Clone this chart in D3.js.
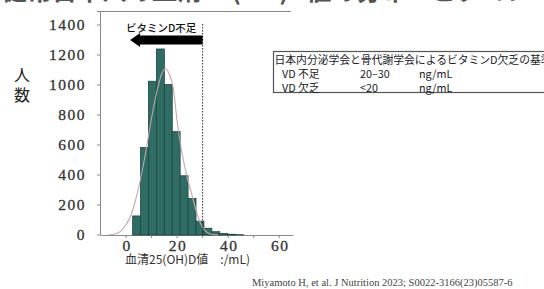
<!DOCTYPE html>
<html>
<head>
<meta charset="utf-8">
<script src="https://cdn.jsdelivr.net/npm/d3@7"></script>
<style>
  body { margin: 0; background: #fff; }
  svg { display: block; }
</style>
</head>
<body>
<div id="display"></div>
<script>
// bins of serum 25(OH)D (ng/mL), lower edges and counts
const binStart = [2.6, 5.7, 8.8, 11.9, 15.0, 18.1, 21.2, 24.3, 27.4, 30.5, 33.6, 36.7, 39.8, 42.9];
const binCount = [127, 583, 1025, 1240, 1003, 689, 395, 244, 92, 45, 22, 10, 5, 2];
const binWidth = 3.1;

// fitted curve
const curveX = [-7, -4, -2, 0, 2, 4, 6, 8, 10, 12, 14, 15.5, 17, 18.5, 20, 22, 24, 26, 28, 30, 32, 34, 36];
const curveY = [0, 8, 28, 68, 135, 250, 400, 580, 780, 950, 1075, 1108, 1070, 980, 760, 540, 380, 255, 130, 50, 15, 3, 0];

const yTicks = [0, 200, 400, 600, 800, 1000, 1200, 1400];
const xTicks = [0, 20, 40, 60];
const xMinor = [0, 10, 20, 30, 40, 50, 60];

const svg = d3.select('#display')
    .append('svg')
    .attr('width', 544)
    .attr('height', 289);

const x = d3.scaleLinear().domain([-10, 65]).range([100.5, 292]);
const y = d3.scaleLinear().domain([0, 1400]).range([235, 25]);

const serif = "'Liberation Serif', serif";
const jp = "'Noto Sans CJK JP', sans-serif";

// cut-off heading at the very top
svg.append('text')
    .attr('x', 2)
    .attr('y', 0)
    .attr('font-family', jp)
    .attr('font-weight', 'bold')
    .attr('font-size', '25px')
    .attr('fill', '#555')
    .text('健常日本人の血清25(OH)D値の分布：ビタミンD不足・欠乏');

// frame: left axis, top line, bottom axis
const axisColor = '#8a8a8a';
svg.append('line')
    .attr('x1', 100.5).attr('y1', 12)
    .attr('x2', 100.5).attr('y2', 235)
    .attr('stroke', axisColor);
svg.append('line')
    .attr('x1', 97).attr('y1', 11.5)
    .attr('x2', 291).attr('y2', 11.5)
    .attr('stroke', axisColor);
svg.append('line')
    .attr('x1', 100.5).attr('y1', 235.5)
    .attr('x2', 293).attr('y2', 235.5)
    .attr('stroke', axisColor);

// y ticks + labels
svg.append('g').selectAll('line')
    .data(yTicks)
    .join('line')
    .attr('x1', 97).attr('x2', 100.5)
    .attr('y1', d => y(d)).attr('y2', d => y(d))
    .attr('stroke', axisColor);

svg.append('g').selectAll('text')
    .data(yTicks)
    .join('text')
    .attr('x', 86)
    .attr('y', d => y(d) + 5)
    .attr('text-anchor', 'end')
    .attr('font-family', serif)
    .attr('font-size', '15.5px')
    .attr('letter-spacing', '1.5px')
    .attr('stroke', '#333')
    .attr('stroke-width', 0.3)
    .attr('fill', '#333')
    .text(d => d);

// x ticks + labels
svg.append('g').selectAll('line')
    .data(xMinor)
    .join('line')
    .attr('x1', d => x(d)).attr('x2', d => x(d))
    .attr('y1', 235.5).attr('y2', 238)
    .attr('stroke', axisColor);

svg.append('g').selectAll('text')
    .data(xTicks)
    .join('text')
    .attr('x', d => x(d) + 1)
    .attr('y', 250.5)
    .attr('text-anchor', 'middle')
    .attr('font-family', serif)
    .attr('font-size', '15.5px')
    .attr('letter-spacing', '1.5px')
    .attr('stroke', '#333')
    .attr('stroke-width', 0.3)
    .attr('fill', '#333')
    .text(d => d);

// y title (vertical)
['人', '数'].forEach((ch, i) => {
    svg.append('text')
        .attr('x', 22)
        .attr('y', 81 + i * 20)
        .attr('text-anchor', 'middle')
        .attr('font-family', jp)
        .attr('font-size', '16px')
        .attr('fill', '#222')
        .text(ch);
});

// x title
svg.append('text')
    .attr('x', 125)
    .attr('y', 263.5)
    .attr('font-family', jp)
    .attr('font-size', '12px')
    .attr('fill', '#333')
    .text('血清25(OH)D値　:/mL)');

// histogram bars
svg.append('g').selectAll('rect')
    .data(binStart)
    .join('rect')
    .attr('x', d => x(d))
    .attr('y', (d, i) => y(binCount[i]))
    .attr('width', d => x(d + binWidth) - x(d))
    .attr('height', (d, i) => y(0) - y(binCount[i]))
    .attr('fill', '#2f6c64')
    .attr('stroke', '#1d4541')
    .attr('stroke-width', 0.8);

// fitted curve
const line = d3.line()
    .x(d => x(d[0]))
    .y(d => y(d[1]))
    .curve(d3.curveMonotoneX);

svg.append('path')
    .attr('d', line(curveX.map((v, i) => [v, curveY[i]])))
    .attr('fill', 'none')
    .attr('stroke', '#c6a6a8')
    .attr('stroke-width', 1.1);

// cut-off at 30 ng/mL
svg.append('line')
    .attr('x1', x(30)).attr('y1', 24)
    .attr('x2', x(30)).attr('y2', 235)
    .attr('stroke', '#222')
    .attr('stroke-width', 1)
    .attr('stroke-dasharray', '1.5,1.5');

// arrow "vitamin D insufficient"
const ay = 40;
svg.append('path')
    .attr('d', `M${x(30)},${ay - 4.5} L${x(5.5)},${ay - 4.5} L${x(5.5)},${ay - 7}
                L${x(1.6)},${ay} L${x(5.5)},${ay + 7} L${x(5.5)},${ay + 4.5}
                L${x(30)},${ay + 4.5} Z`)
    .attr('fill', '#000');

svg.append('text')
    .attr('x', x(0))
    .attr('y', 31.5)
    .attr('font-family', jp)
    .attr('font-weight', 500)
    .attr('font-size', '10.5px')
    .attr('fill', '#111')
    .text('ビタミンD不足');

// criteria box
const box = svg.append('g');
box.append('rect')
    .attr('x', 273.5).attr('y', 51.5)
    .attr('width', 300).attr('height', 41)
    .attr('fill', '#fff')
    .attr('stroke', '#555')
    .attr('stroke-width', 1.2);

const boxText = (tx, ty, s) => box.append('text')
    .attr('x', tx).attr('y', ty + 4)
    .attr('font-family', jp)
    .attr('font-size', '10.8px')
    .attr('fill', '#1a1a2a')
    .text(s);

boxText(274.5, 60, '日本内分泌学会と骨代謝学会によるビタミンD欠乏の基準');
boxText(282, 74, 'VD 不足');
boxText(360, 74, '20–30');
boxText(419, 74, 'ng/mL');
boxText(282, 87.5, 'VD 欠乏');
boxText(360, 87.5, '<20');
boxText(419, 87.5, 'ng/mL');

// citation
svg.append('text')
    .attr('x', 252)
    .attr('y', 286)
    .attr('font-family', serif)
    .attr('font-size', '10.5px')
    .attr('fill', '#444')
    .text('Miyamoto H, et al. J Nutrition 2023; S0022-3166(23)05587-6');
</script>
</body>
</html>
